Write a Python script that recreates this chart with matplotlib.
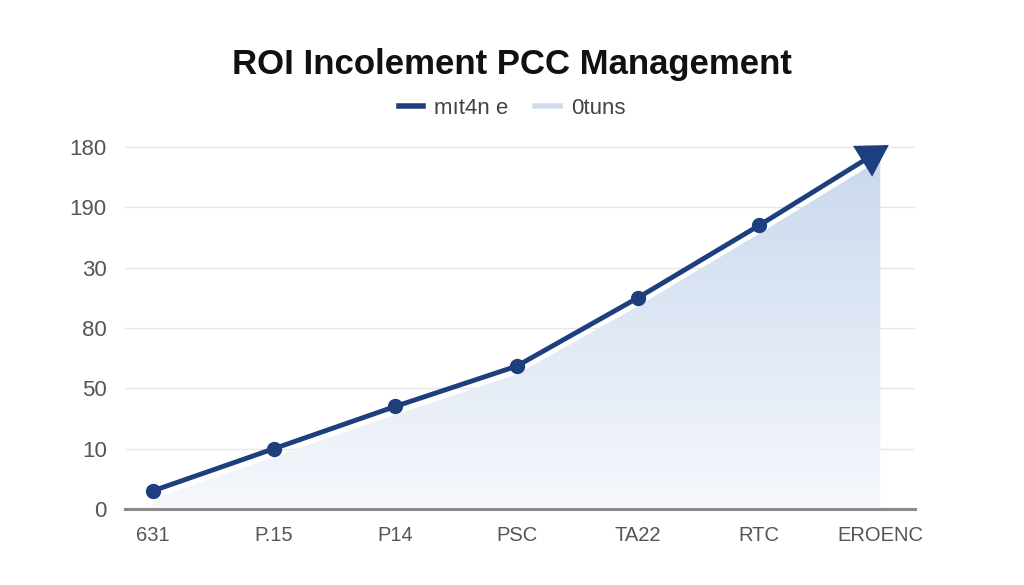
import matplotlib
matplotlib.use("Agg")
import matplotlib.pyplot as plt
import matplotlib.transforms as mtransforms
from matplotlib.patches import Polygon, FancyArrowPatch
from matplotlib.colors import LinearSegmentedColormap
from matplotlib.lines import Line2D
import numpy as np

categories = ["631", "P.15", "P14", "PSC", "TA22", "RTC", "EROENC"]
values = [9, 30, 51, 71, 105, 141, 178]
ytick_values = [0, 30, 60, 90, 120, 150, 180]
ytick_labels = ["0", "10", "50", "80", "30", "190", "180"]
title = "ROI Incolement PCC Management"
legend_labels = ["mıt4n e", "0tuns"]

line_color = "#1d3f7e"
fill_top = "#c9d8ee"
fill_bottom = "#f6f8fc"
font = "Liberation Sans"

plt.rcParams["font.family"] = [font, "DejaVu Sans"]

fig = plt.figure(figsize=(10.24, 5.85), dpi=100)
ax = fig.add_axes([0.122, 0.130, 0.772, 0.653])

x = np.arange(len(categories))
ax.set_xlim(-0.23, len(categories) - 1 + 0.29)
ax.set_ylim(0, 190)

# gradient fill under the line, shifted slightly down
offset = mtransforms.ScaledTranslation(0, -6 / 72, fig.dpi_scale_trans)
poly_pts = [(x[0], 0)] + list(zip(x, values)) + [(x[-1], 0)]
poly = Polygon(poly_pts, closed=True, facecolor="none", edgecolor="none",
               transform=ax.transData + offset)
ax.add_patch(poly)
grad = np.linspace(0, 1, 256).reshape(-1, 1)
cmap = LinearSegmentedColormap.from_list("g", [fill_bottom, fill_top])
im = ax.imshow(grad, extent=[x[0], x[-1], 0, max(values)], origin="lower",
               aspect="auto", cmap=cmap, zorder=1)
im.set_clip_path(poly)

# grid
for yv in ytick_values[1:]:
    ax.axhline(yv, color="#e6e6e6", lw=1, zorder=0)

# main line
ax.plot(x[:-1], values[:-1], color=line_color, lw=3.5, zorder=3,
        solid_capstyle="round")
ax.plot(x[:-1], values[:-1], "o", color=line_color, ms=10, zorder=4)
arrow = FancyArrowPatch((x[-2], values[-2]), (x[-1] + 0.07, values[-1] + 3),
                        arrowstyle="-|>,head_length=0.85,head_width=0.5",
                        mutation_scale=20, color=line_color, lw=3.5,
                        shrinkA=0, shrinkB=0, zorder=5, clip_on=False,
                        joinstyle="miter")
ax.add_patch(arrow)

ax.set_xticks(x)
ax.set_xticklabels(categories)
ax.set_yticks(ytick_values)
ax.set_yticklabels(ytick_labels)
ax.tick_params(axis="both", length=0, labelcolor="#555555")
ax.tick_params(axis="x", pad=12, labelsize=14.5)
ax.tick_params(axis="y", pad=13, labelsize=16)
for s in ["top", "right", "left"]:
    ax.spines[s].set_visible(False)
ax.spines["bottom"].set_color("#8a8a8a")
ax.spines["bottom"].set_linewidth(2.2)
ax.spines["bottom"].set_zorder(6)

fig.text(0.5, 0.89, title, ha="center", va="center", fontsize=25,
         fontweight="bold", color="#111111")

handles = [Line2D([], [], color=line_color, lw=4),
           Line2D([], [], color="#cfdcee", lw=4)]
fig.legend(handles, legend_labels, loc="center", bbox_to_anchor=(0.5, 0.815),
           ncol=2, frameon=False, fontsize=16, labelcolor="#444444",
           handlelength=1.1, columnspacing=1.2, handletextpad=0.5)

fig.savefig("out.png", dpi=100, facecolor="white")
